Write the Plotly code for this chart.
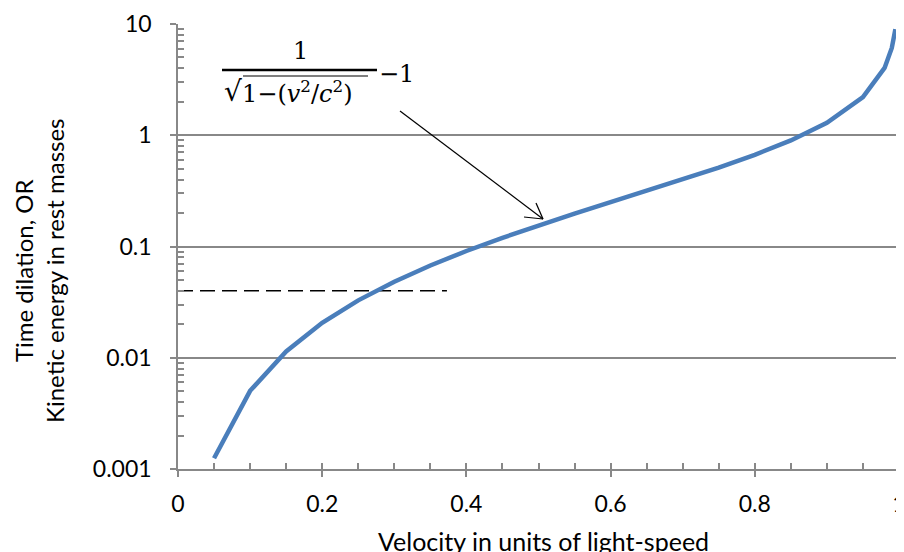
import plotly.graph_objects as go

velocity = [0.05, 0.1, 0.15, 0.2, 0.25, 0.3, 0.35, 0.4, 0.45, 0.5, 0.55, 0.6, 0.65,
            0.7, 0.75, 0.8, 0.85, 0.9, 0.95, 0.98, 0.99, 0.995]
energy = [0.00125, 0.00504, 0.0114, 0.0206, 0.0328, 0.0483, 0.0675, 0.0911, 0.1198,
          0.1547, 0.197, 0.25, 0.316, 0.400, 0.512, 0.667, 0.898, 1.294, 2.20,
          4.03, 6.09, 9.0]
dash_x = [0, 0.373]
dash_y = [0.04, 0.04]
x_ticks = [0, 0.2, 0.4, 0.6, 0.8, 1]
x_labels = ["0", "0.2", "0.4", "0.6", "0.8", "1"]
y_ticks = [0.001, 0.01, 0.1, 1, 10]
y_labels = ["0.001", "0.01", "0.1", "1", "10"]
x_title = "Velocity in units of light-speed"
y_title = "Time dilation, OR<br>Kinetic energy in rest masses"

FONT = "Lato"
MATH = "DejaVu Serif"
OFF = 8  # page body margin
W, H = 904 - OFF, 552 - OFF
L, R, T, B = 178 - OFF, 5, 24 - OFF, 83
PW, PH = W - L - R, H - T - B
GRAY = "#888888"

def px(xp):
    # window pixel x -> paper fraction
    return (xp - OFF - L) / PW

def py(yp):
    return (H - B - (yp - OFF)) / PH

fig = go.Figure()
fig.add_trace(go.Scatter(x=dash_x, y=dash_y, mode="lines",
                         line=dict(color="black", width=1.5, dash="15px,7px"),
                         showlegend=False, hoverinfo="skip"))
fig.add_trace(go.Scatter(x=velocity, y=energy, mode="lines",
                         line=dict(color="#4A7EBB", width=4.5),
                         showlegend=False))
fig.add_trace(go.Scatter(x=[0, 1], y=[0.001, 10], xaxis="x2", yaxis="y2",
                         mode="markers", marker=dict(opacity=0),
                         showlegend=False, hoverinfo="skip"))

fig.update_layout(
    width=W, height=H,
    margin=dict(l=L, r=R, t=T, b=B, autoexpand=False),
    paper_bgcolor="white", plot_bgcolor="white",
    font=dict(family=FONT, size=23, color="black"),
    xaxis=dict(range=[0, 1], tickvals=x_ticks, ticktext=x_labels, automargin=False,
               showgrid=False, zeroline=False,
               showline=True, linecolor=GRAY, linewidth=1.5,
               ticks="outside", ticklen=6, tickcolor=GRAY, tickwidth=1.5,
               ticklabelstandoff=8, ticklabeloverflow="allow",
               tickfont=dict(family=FONT, size=23)),
    yaxis=dict(type="log", range=[-3, 1], tickvals=y_ticks, ticktext=y_labels,
               automargin=False, ticklabeloverflow="allow",
               showgrid=True, gridcolor=GRAY, gridwidth=1.5, zeroline=False,
               showline=True, linecolor=GRAY, linewidth=1.5,
               ticks="outside", ticklen=6, tickcolor=GRAY, tickwidth=1.5,
               ticklabelstandoff=14,
               tickfont=dict(family=FONT, size=23)),
    xaxis2=dict(range=[0, 1], overlaying="x", side="bottom", dtick=0.05, tick0=0,
                automargin=False,
                ticks="inside", ticklen=6, tickcolor=GRAY, tickwidth=1.5,
                showticklabels=False, showgrid=False, zeroline=False, showline=False),
    yaxis2=dict(type="log", range=[-3, 1], overlaying="y", side="left", dtick="D1",
                automargin=False,
                ticks="inside", ticklen=6, tickcolor=GRAY, tickwidth=1.5,
                showticklabels=False, showgrid=False, zeroline=False, showline=False),
)

# axis titles
fig.add_annotation(xref="paper", yref="paper", x=px(543), y=py(524), text=x_title,
                   showarrow=False, font=dict(family=FONT, size=25),
                   xanchor="center", yanchor="top")
fig.add_annotation(xref="paper", yref="paper", x=px(39), y=py(271), text=y_title,
                   showarrow=False, textangle=-90, font=dict(family=FONT, size=24),
                   xanchor="center", yanchor="middle")

# formula annotation
fig.add_annotation(xref="paper", yref="paper", x=px(300), y=py(51), text="1",
                   showarrow=False, font=dict(family=MATH, size=24),
                   xanchor="center", yanchor="middle")
fig.add_annotation(xref="paper", yref="paper", x=px(222), y=py(92), text="√",
                   showarrow=False, font=dict(family=MATH, size=28),
                   xanchor="left", yanchor="middle")
fig.add_annotation(xref="paper", yref="paper", x=px(240), y=py(92),
                   text="1−(<i>v</i><sup>2</sup>/<i>c</i><sup>2</sup>)",
                   showarrow=False, font=dict(family=MATH, size=24),
                   xanchor="left", yanchor="middle")
fig.add_annotation(xref="paper", yref="paper", x=px(377), y=py(74), text="−1",
                   showarrow=False, font=dict(family=MATH, size=24),
                   xanchor="left", yanchor="middle")
fig.add_shape(type="line", xref="paper", yref="paper",
              x0=px(222), x1=px(377), y0=py(70), y1=py(70),
              line=dict(color="black", width=2.5))
fig.add_shape(type="line", xref="paper", yref="paper",
              x0=px(243), x1=px(368), y0=py(76), y1=py(76),
              line=dict(color="black", width=1.2))

# arrow
fig.add_shape(type="line", xref="paper", yref="paper",
              x0=px(400), y0=py(111), x1=px(543), y1=py(219),
              line=dict(color="black", width=1.2))
fig.add_shape(type="line", xref="paper", yref="paper",
              x0=px(543), y0=py(219), x1=px(536), y1=py(203),
              line=dict(color="black", width=1.2))
fig.add_shape(type="line", xref="paper", yref="paper",
              x0=px(543), y0=py(219), x1=px(524), y1=py(217),
              line=dict(color="black", width=1.2))

fig.write_html("out.html")
